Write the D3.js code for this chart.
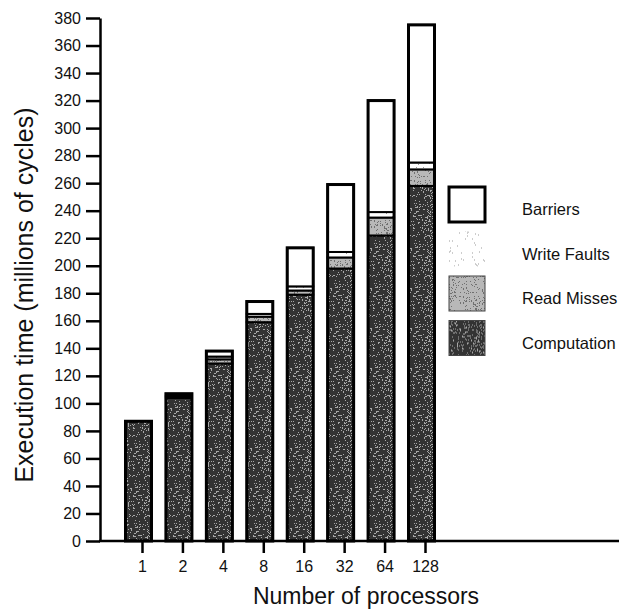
<!DOCTYPE html>
<html>
<head>
<meta charset="utf-8">
<script src="https://cdn.jsdelivr.net/npm/d3@7"></script>
<style>
  body { margin: 0; background: #fff; }
  text { font-family: "Liberation Sans", Arial, Helvetica, sans-serif; fill: #111; }
</style>
</head>
<body>
<div id="chart"></div>
<script>
// data (millions of cycles)
var procs = ["1", "2", "4", "8", "16", "32", "64", "128"];
var computation = [87, 104, 129, 159, 179, 198, 222, 258];
var readMisses = [0, 1, 3, 4, 3, 8, 13, 12];
var writeFaults = [0, 0.5, 2, 2, 3, 4, 4, 5];
var barriers = [0, 1.5, 4, 9, 28, 49, 81, 100];
var yTicks = d3.range(0, 381, 20);
var legendLabels = ["Barriers", "Write Faults", "Read Misses", "Computation"];

var keys = ["computation", "readMisses", "writeFaults", "barriers"];
var fills = {
  computation: "url(#pat-comp)",
  readMisses: "url(#pat-read)",
  writeFaults: "url(#pat-write)",
  barriers: "#fff"
};

var width = 619, height = 613;

var svg = d3.select("#chart").append("svg")
    .attr("width", width)
    .attr("height", height);

// stipple textures (deterministic, like the print screen)
var defs = svg.append("defs");
var seed = 7;
function rnd() { seed = (seed * 16807) % 2147483647; return (seed - 1) / 2147483646; }

function stipple(id, base, dot, count, r) {
  var p = defs.append("pattern")
      .attr("id", id)
      .attr("patternUnits", "userSpaceOnUse")
      .attr("width", 40).attr("height", 40);
  p.append("rect").attr("width", 40).attr("height", 40).attr("fill", base);
  for (var i = 0; i < count; i++) {
    p.append("rect")
        .attr("x", Math.floor(rnd() * 40))
        .attr("y", Math.floor(rnd() * 40))
        .attr("width", r).attr("height", r)
        .attr("fill", dot);
  }
}
stipple("pat-comp", "#333", "#a8a8a8", 280, 1);
stipple("pat-read", "#b8b8b8", "#707070", 220, 1);
stipple("pat-write", "#ffffff", "#9a9a9a", 45, 1);

var rows = procs.map(function(p, i) {
  return {
    procs: p,
    computation: computation[i],
    readMisses: readMisses[i],
    writeFaults: writeFaults[i],
    barriers: barriers[i]
  };
});

var stack = d3.stack().keys(keys)(rows);

// scales
var x = d3.scalePoint()
    .domain(procs)
    .range([142, 425]);
var y = d3.scaleLinear()
    .domain([0, 380])
    .range([541, 18]);

var barW = 26, barShift = -3.5;

// bars
var layers = svg.append("g").selectAll("g")
  .data(stack)
  .enter().append("g")
    .attr("fill", function(d) { return fills[d.key]; });

layers.selectAll("rect")
  .data(function(d) { return d; })
  .enter().append("rect")
    .filter(function(d) { return d[1] - d[0] > 0; })
    .attr("x", function(d) { return x(d.data.procs) + barShift - barW / 2; })
    .attr("width", barW)
    .attr("y", function(d) { return y(d[1]); })
    .attr("height", function(d) { return y(d[0]) - y(d[1]); })
    .attr("stroke", "#000")
    .attr("stroke-width", 2);

// heavy outline round each bar
svg.append("g").selectAll("rect")
  .data(rows)
  .enter().append("rect")
    .attr("x", function(d) { return x(d.procs) + barShift - barW / 2; })
    .attr("width", barW)
    .attr("y", function(d) { return y(d.computation + d.readMisses + d.writeFaults + d.barriers); })
    .attr("height", function(d) { return y(0) - y(d.computation + d.readMisses + d.writeFaults + d.barriers); })
    .attr("fill", "none")
    .attr("stroke", "#000")
    .attr("stroke-width", 3);

// y axis
var yAxis = svg.append("g")
    .attr("transform", "translate(100,0)")
    .call(d3.axisLeft(y).tickValues(yTicks).tickSize(14).tickPadding(5).tickSizeOuter(0))
    .attr("font-family", "'Liberation Sans', Arial, sans-serif")
    .attr("font-size", 16);
yAxis.selectAll("line").attr("stroke", "#000").attr("stroke-width", 2.5);
yAxis.select(".domain").attr("stroke", "#000").attr("stroke-width", 2.5);
yAxis.selectAll("text").attr("fill", "#111");

// x axis
var xAxis = svg.append("g")
    .attr("transform", "translate(0,541)")
    .call(d3.axisBottom(x).tickSize(12).tickPadding(8).tickSizeOuter(0))
    .attr("font-family", "'Liberation Sans', Arial, sans-serif")
    .attr("font-size", 16);
xAxis.select(".domain").remove();
xAxis.selectAll("line").attr("stroke", "#000").attr("stroke-width", 2.5);
xAxis.selectAll("text").attr("fill", "#111");
svg.append("line")
    .attr("x1", 99).attr("x2", 619)
    .attr("y1", 541).attr("y2", 541)
    .attr("stroke", "#000")
    .attr("stroke-width", 2.5);

// axis titles
svg.append("text")
    .attr("transform", "translate(33,295) rotate(-90)")
    .style("text-anchor", "middle")
    .style("font-size", "25px")
    .text("Execution time (millions of cycles)");

svg.append("text")
    .attr("x", 366)
    .attr("y", 604)
    .style("text-anchor", "middle")
    .style("font-size", "23px")
    .text("Number of processors");

// legend
var legendFills = ["#fff", "url(#pat-write)", "url(#pat-read)", "url(#pat-comp)"];
var legend = svg.append("g").selectAll("g")
  .data(legendLabels)
  .enter().append("g")
    .attr("transform", function(d, i) { return "translate(449," + (187 + i * 44.5) + ")"; });

legend.append("rect")
    .attr("width", 36)
    .attr("height", 35)
    .attr("fill", function(d, i) { return legendFills[i]; })
    .attr("stroke", function(d, i) { return i == 0 ? "#000" : (i == 1 ? "none" : "#444"); })
    .attr("stroke-width", function(d, i) { return i == 0 ? 3 : 1; });

legend.append("text")
    .attr("x", 73)
    .attr("y", 28)
    .style("font-size", "16.5px")
    .text(function(d) { return d; });
</script>
</body>
</html>
